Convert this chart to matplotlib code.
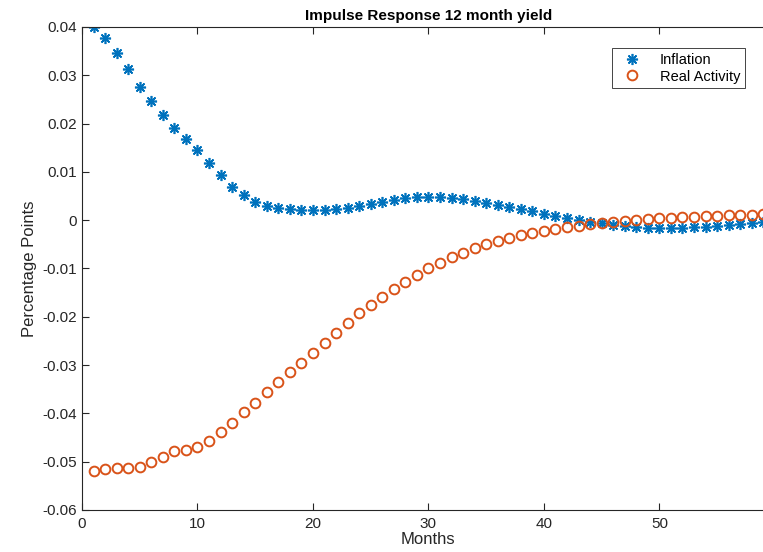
import numpy as np
import matplotlib.pyplot as plt
from matplotlib.ticker import FuncFormatter

plt.rcParams['font.family'] = ['Liberation Sans', 'DejaVu Sans']

months = np.arange(1, 61)
inflation = [0.0400, 0.0377, 0.0346, 0.0313, 0.0276, 0.0247, 0.0218, 0.0191, 0.0168, 0.0145,
             0.0118, 0.0093, 0.0068, 0.0052, 0.0037, 0.0029, 0.0025, 0.0023, 0.0021, 0.0021,
             0.0022, 0.0024, 0.0026, 0.0029, 0.0033, 0.0037, 0.0041, 0.0045, 0.0048, 0.0049,
             0.0048, 0.0046, 0.0044, 0.0040, 0.0036, 0.0032, 0.0028, 0.0023, 0.0018, 0.0013,
             0.0009, 0.0005, 0.0001, -0.0003, -0.0006, -0.0009, -0.0012, -0.0014, -0.0016, -0.0016,
             -0.0016, -0.0016, -0.0015, -0.0014, -0.0012, -0.0010, -0.0008, -0.0006, -0.0004, -0.0002]
real_activity = [-0.0519, -0.0516, -0.0513, -0.0514, -0.0512, -0.0500, -0.0490, -0.0478, -0.0475, -0.0470,
                 -0.0458, -0.0438, -0.0419, -0.0398, -0.0378, -0.0356, -0.0335, -0.0314, -0.0295, -0.0274,
                 -0.0254, -0.0233, -0.0212, -0.0193, -0.0175, -0.0158, -0.0142, -0.0127, -0.0113, -0.0100,
                 -0.0088, -0.0077, -0.0067, -0.0058, -0.0050, -0.0043, -0.0037, -0.0031, -0.0027, -0.0022,
                 -0.0018, -0.0014, -0.0011, -0.0008, -0.0005, -0.0003, -0.0001, 0.0001, 0.0003, 0.0004,
                 0.0005, 0.0006, 0.0007, 0.0008, 0.0009, 0.0010, 0.0011, 0.0011, 0.0012, 0.0012]

fig = plt.figure(figsize=(7.63, 5.52), dpi=100)
ax = fig.add_axes([0.1075, 0.0761, 0.908, 0.875])

ax.plot(months, inflation, linestyle='none', marker=(8, 2, 0), markersize=8,
        markeredgewidth=1.2, color='#0072BD', label='Inflation')
ax.plot(months, real_activity, linestyle='none', marker='o', markersize=7,
        markeredgewidth=1.4, markerfacecolor='none', color='#D95319', label='Real Activity')

ax.set_xlim(0, 60)
ax.set_ylim(-0.06, 0.04)
ax.set_xticks(np.arange(0, 61, 10))
ax.set_yticks(np.arange(-0.06, 0.041, 0.01))
ax.yaxis.set_major_formatter(FuncFormatter(
    lambda v, p: '0' if abs(v) < 1e-9 else ('%.2f' % v)))
ax.tick_params(direction='in', top=True, right=True, labelsize=11,
               colors='#262626', length=5, width=0.8)
ax.tick_params(axis='x', pad=5)
for s in ax.spines.values():
    s.set_color('#262626')
    s.set_linewidth(0.8)

ax.set_title('Impulse Response 12 month yield', fontsize=11, fontweight='bold', pad=5)
ax.set_xlabel('Months', fontsize=12, color='#262626', labelpad=1)
ax.set_ylabel('Percentage Points', fontsize=12, color='#262626', labelpad=4)

leg = fig.legend(loc='upper right', bbox_to_anchor=(0.9856, 0.9257), fontsize=10.5,
                 fancybox=False, edgecolor='#262626', framealpha=1, borderpad=0.3,
                 handletextpad=0.8, handlelength=2.2, labelspacing=0.2)
leg.get_frame().set_linewidth(0.6)

fig.savefig('out.png', dpi=100)
